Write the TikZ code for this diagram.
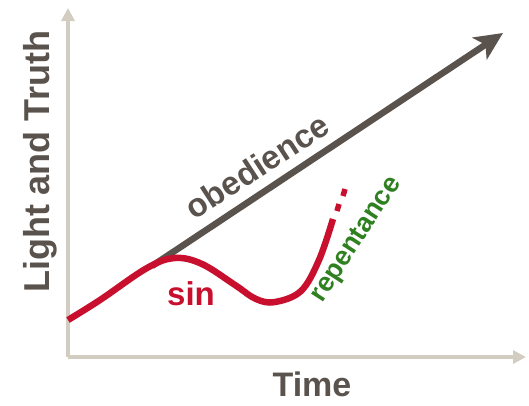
\documentclass[tikz,border=0pt]{standalone}
\usepackage{fontspec}
\setmainfont{Liberation Sans}
\usetikzlibrary{arrows.meta}

\definecolor{axisgray}{HTML}{D2CCC1}
\definecolor{darkbrown}{HTML}{5A524C}
\definecolor{sinred}{HTML}{C8102E}
\definecolor{repgreen}{HTML}{2F8020}

\begin{document}
\begin{tikzpicture}[
    x=1pt, y=-1pt,
    axis/.style={draw=axisgray, line width=4pt, -{Triangle[length=13pt, width=13pt]}},
    obey/.style={draw=darkbrown, line width=6.5pt, -{Stealth[length=28pt, width=26pt, inset=7pt]}},
    sinline/.style={draw=sinred, line width=6.5pt},
    label/.style={font=\bfseries\fontsize{#1}{#1}\selectfont, inner sep=0pt},
]
\useasboundingbox (0,0) rectangle (529,405);

% axes
\coordinate (origin) at (68,357);
\coordinate (ytop) at (68,8);
\coordinate (xend) at (526,357);
\draw[axis] (origin) -- (ytop);
\draw[axis] (origin) -- (xend);

% obedience
\coordinate (obstart) at (152,266);
\coordinate (obtip) at (503,33);
\draw[obey] (obstart) -- (obtip);

% sin and repentance
\draw[sinline] plot[smooth, tension=0.6] coordinates {
    (68,320) (100,300) (147,268) (175,258) (202,264) (235,285)
    (256,299) (275,302) (301,291) (319,260) (333,219)};
\draw[sinline, line width=5.5pt] (337,211) -- (339,204);
\draw[sinline, line width=5.5pt] (343,196) -- (345,189);

% labels
\node[label=36, text=darkbrown, rotate=90] (ylab) at (40,162) {Light and Truth};
\node[label=34, text=darkbrown] (xlab) at (312,384) {Time};
\node[label=33, text=darkbrown, rotate=33] (oblab) at (257,166) {obedience};
\node[label=33, text=sinred] (sinlab) at (191,294) {sin};
\node[label=27, text=repgreen, rotate=57] (replab) at (357,240) {repentance};
\end{tikzpicture}
\end{document}
